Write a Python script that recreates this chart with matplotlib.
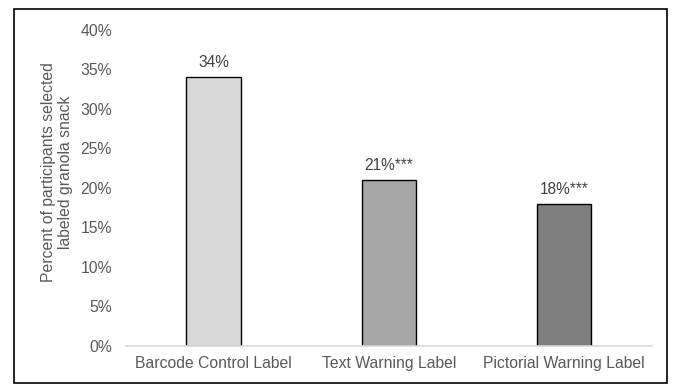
import matplotlib

matplotlib.use("Agg")
import matplotlib.pyplot as plt
from matplotlib.patches import Rectangle
from matplotlib.ticker import PercentFormatter

categories = ["Barcode Control Label", "Text Warning Label", "Pictorial Warning Label"]
values = [34, 21, 18]
bar_labels = ["34%", "21%***", "18%***"]
colors = ["#d9d9d9", "#a6a6a6", "#7f7f7f"]

plt.rcParams["font.family"] = ["Liberation Sans", "DejaVu Sans"]
text_color = "#595959"

fig = plt.figure(figsize=(6.76, 3.84), dpi=100)
ax = fig.add_axes([0.186, 0.099, 0.7785, 0.823])

x = range(len(categories))
bars = ax.bar(x, values, width=0.31, color=colors, edgecolor="black", linewidth=1.0)
for bar, lab in zip(bars, bar_labels):
    ax.annotate(lab, (bar.get_x() + bar.get_width() / 2, bar.get_height()),
                xytext=(0, 5), textcoords="offset points",
                ha="center", va="bottom", fontsize=11.2, color="#404040")

ax.set_xlim(-0.5, 2.5)
ax.set_ylim(0, 40)
ax.set_yticks(range(0, 41, 5))
ax.yaxis.set_major_formatter(PercentFormatter(decimals=0))
ax.set_xticks(list(x))
ax.set_xticklabels(categories)
ax.tick_params(axis="both", length=0, labelsize=11.3, labelcolor=text_color)
ax.tick_params(axis="y", pad=10)
ax.tick_params(axis="x", pad=7)
for side in ["top", "right", "left"]:
    ax.spines[side].set_visible(False)
ax.spines["bottom"].set_color("#d9d9d9")
ax.spines["bottom"].set_linewidth(1.2)
ax.set_ylabel("Percent of participants selected\nlabeled granola snack",
              fontsize=11.3, color=text_color, linespacing=1.15)
ax.yaxis.set_label_coords(-0.1, 0.55)

fig.patches.append(Rectangle((0.021, 0.003), 0.966, 0.973, transform=fig.transFigure,
                             fill=False, edgecolor="black", linewidth=1.2))

fig.savefig("out.png", dpi=100)
